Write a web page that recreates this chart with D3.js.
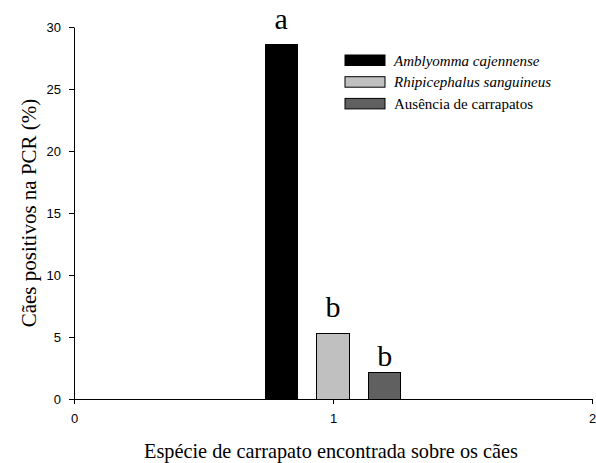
<!DOCTYPE html>
<html>
<head>
<meta charset="utf-8">
<script src="https://cdn.jsdelivr.net/npm/d3@7"></script>
<style>
  html, body { margin: 0; padding: 0; background: #fff; }
  svg { display: block; }
</style>
</head>
<body>
<svg id="chart" width="596" height="463"></svg>
<script>
// Tick species found on dogs and the share of PCR-positive dogs in each group
const series = ["Amblyomma cajennense", "Rhipicephalus sanguineus", "Ausência de carrapatos"];
const italicSeries = [true, true, false];
const values = [28.6, 5.3, 2.1];
const letters = ["a", "b", "b"];
const groupPosition = 1;
const xTicks = [0, 1, 2];
const yTicks = [0, 5, 10, 15, 20, 25, 30];
const fills = ["#000000", "#c0c0c0", "#606060"];

const svg = d3.select("#chart");
const sans = "'Liberation Sans', Arial, sans-serif";
const serif = "'Liberation Serif', 'Times New Roman', serif";

const plot = { left: 74, right: 592, top: 27, bottom: 399 };

const x = d3.scaleLinear().domain([0, 2]).range([plot.left, plot.right]);
const y = d3.scaleLinear().domain([0, 30]).range([plot.bottom, plot.top]);

// three bars grouped around x = 1
const band = d3.scaleBand()
  .domain(series)
  .range([x(groupPosition - 0.3), x(groupPosition + 0.3)])
  .paddingInner(0.38)
  .paddingOuter(0.19);

// axes
const yAxis = svg.append("g")
  .attr("transform", `translate(${plot.left},0)`)
  .call(d3.axisLeft(y).tickValues(yTicks).tickFormat(d3.format("d"))
    .tickSize(5).tickPadding(8).tickSizeOuter(0));
const xAxis = svg.append("g")
  .attr("transform", `translate(0,${plot.bottom})`)
  .call(d3.axisBottom(x).tickValues(xTicks).tickFormat(d3.format("d"))
    .tickSize(5).tickPadding(10).tickSizeOuter(0));

[yAxis, xAxis].forEach(g => {
  g.select(".domain").attr("stroke", "#000").attr("stroke-width", 1);
  g.selectAll(".tick line").attr("stroke", "#000");
  g.selectAll(".tick text")
    .attr("fill", "#000")
    .style("font-family", sans)
    .style("font-size", "13px");
});

// bars
svg.append("g").selectAll("rect")
  .data(series)
  .join("rect")
  .attr("x", d => band(d))
  .attr("width", band.bandwidth())
  .attr("y", (d, i) => y(values[i]))
  .attr("height", (d, i) => y(0) - y(values[i]))
  .attr("fill", (d, i) => fills[i])
  .attr("stroke", "#000")
  .attr("stroke-width", 1)
  .attr("shape-rendering", "crispEdges");

// significance letters above the bars
const letterGap = [15, 16, 7];
svg.append("g").selectAll("text")
  .data(series)
  .join("text")
  .attr("x", d => band(d) + band.bandwidth() / 2)
  .attr("y", (d, i) => y(values[i]) - letterGap[i])
  .attr("text-anchor", "middle")
  .style("font-family", serif)
  .style("font-size", "30px")
  .attr("fill", "#000")
  .text((d, i) => letters[i]);

// legend
const legend = svg.append("g").attr("transform", "translate(345,55)");
const rows = legend.selectAll("g")
  .data(series)
  .join("g")
  .attr("transform", (d, i) => `translate(0,${i * 21.7})`);
rows.append("rect")
  .attr("width", 40)
  .attr("height", 10.5)
  .attr("fill", (d, i) => fills[i])
  .attr("stroke", "#000")
  .attr("stroke-width", 1);
rows.append("text")
  .attr("x", 49)
  .attr("y", 10.5)
  .style("font-family", serif)
  .style("font-size", "15px")
  .style("font-style", (d, i) => italicSeries[i] ? "italic" : "normal")
  .attr("fill", "#000")
  .text(d => d);

// axis titles
svg.append("text")
  .attr("transform", `translate(29,${(plot.top + plot.bottom) / 2}) rotate(-90)`)
  .attr("text-anchor", "middle")
  .attr("dy", "0.35em")
  .style("font-family", serif)
  .style("font-size", "21px")
  .attr("fill", "#000")
  .text("Cães positivos na PCR (%)");

svg.append("text")
  .attr("x", 331)
  .attr("y", 458)
  .attr("text-anchor", "middle")
  .style("font-family", serif)
  .style("font-size", "20.3px")
  .attr("fill", "#000")
  .text("Espécie de carrapato encontrada sobre os cães");
</script>
</body>
</html>
